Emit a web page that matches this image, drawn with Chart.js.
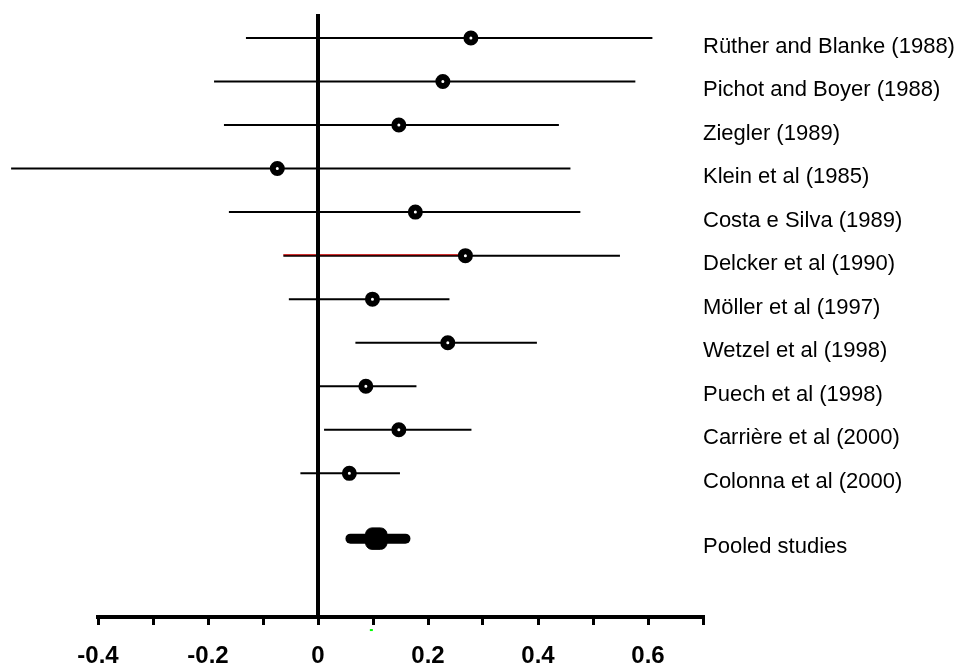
<!DOCTYPE html>
<html>
<head>
<meta charset="utf-8">
<script src="https://cdn.jsdelivr.net/npm/chart.js@4.4.1/dist/chart.umd.min.js"></script>
<style>
  html, body { margin: 0; padding: 0; background: #fff; }
  #wrap { width: 961px; height: 665px; position: relative; }
</style>
</head>
<body>
<div id="wrap"><canvas id="forest"></canvas></div>
<script>
// studies, top to bottom
const studies = [
    'Rüther and Blanke (1988)',
    'Pichot and Boyer (1988)',
    'Ziegler (1989)',
    'Klein et al (1985)',
    'Costa e Silva (1989)',
    'Delcker et al (1990)',
    'Möller et al (1997)',
    'Wetzel et al (1998)',
    'Puech et al (1998)',
    'Carrière et al (2000)',
    'Colonna et al (2000)',
    'Pooled studies'
];
// row index on the vertical scale (pooled row sits a bit lower)
const rows = [0, 1, 2, 3, 4, 5, 6, 7, 8, 9, 10, 11.5];

const estimate = [0.278, 0.227, 0.147, -0.074, 0.177, 0.268, 0.099, 0.236, 0.087, 0.147, 0.057, 0.106];
const lower    = [-0.131, -0.189, -0.171, -0.558, -0.162, -0.063, -0.053, 0.068, 0.003, 0.011, -0.032, 0.059];
const upper    = [0.608, 0.577, 0.438, 0.459, 0.477, 0.549, 0.239, 0.398, 0.179, 0.279, 0.149, 0.159];

const xTicks = [-0.4, -0.3, -0.2, -0.1, 0, 0.1, 0.2, 0.3, 0.4, 0.5, 0.6, 0.7];
const xTickLabels = ['-0.4', '', '-0.2', '', '0', '', '0.2', '', '0.4', '', '0.6', ''];

const pooled = studies.length - 1;
const redRow = 5; // Delcker: left arm drawn in red

const datasets = [];

// estimate markers (individual studies)
datasets.push({
    type: 'scatter',
    data: estimate.slice(0, pooled).map((v, i) => ({ x: v, y: rows[i] })),
    pointStyle: 'circle',
    pointRadius: 4.5,
    pointBorderWidth: 6,
    pointBackgroundColor: '#ffffff',
    pointBorderColor: '#000000',
    order: 0
});

// pooled marker
datasets.push({
    type: 'scatter',
    data: [{ x: estimate[pooled], y: rows[pooled] }],
    pointStyle: 'rectRounded',
    pointRadius: 12.5,
    pointBorderWidth: 1,
    pointBackgroundColor: '#000000',
    pointBorderColor: '#000000',
    order: 0
});

// zero line
datasets.push({
    type: 'line',
    data: [{ x: 0, y: -0.55 }, { x: 0, y: 13.3 }],
    borderColor: '#000000',
    borderWidth: 4,
    pointRadius: 0,
    order: 1
});

// red left arm
datasets.push({
    type: 'line',
    data: [{ x: lower[redRow], y: rows[redRow] - 0.02 }, { x: estimate[redRow], y: rows[redRow] - 0.02 }],
    borderColor: '#d40000',
    borderWidth: 1,
    pointRadius: 0,
    order: 2
});

// confidence interval lines (Klein runs past the axis start, so no clipping)
studies.forEach((name, i) => {
    datasets.push({
        type: 'line',
        data: [{ x: lower[i], y: rows[i] }, { x: upper[i], y: rows[i] }],
        borderColor: '#000000',
        borderWidth: i === pooled ? 10 : 2,
        borderCapStyle: i === pooled ? 'round' : 'butt',
        pointRadius: 0,
        clip: false,
        order: 3
    });
});

// tiny green speck under the axis
const speck = { x: 0.097, y: 13.6 };
const speckPlugin = {
    id: 'speck',
    afterDraw(chart) {
        const ctx = chart.ctx;
        const px = chart.scales.x.getPixelForValue(speck.x);
        const py = chart.scales.y.getPixelForValue(speck.y);
        ctx.save();
        ctx.fillStyle = '#00ff00';
        ctx.fillRect(px - 1.5, py - 1, 3, 2);
        ctx.restore();
    }
};

Chart.defaults.font.family = '"Liberation Sans", Arial, sans-serif';
Chart.defaults.color = '#000000';

new Chart(document.getElementById('forest'), {
    type: 'scatter',
    data: { datasets },
    options: {
        responsive: true,
        maintainAspectRatio: false,
        animation: false,
        layout: { padding: { left: 98, top: 14, right: 0, bottom: 0 } },
        plugins: {
            legend: { display: false },
            tooltip: { enabled: false }
        },
        scales: {
            x: {
                type: 'linear',
                min: -0.4,
                max: 0.7,
                afterBuildTicks: (scale) => { scale.ticks = xTicks.map(v => ({ value: v })); },
                afterFit: (scale) => { scale.height = 48; },
                border: { display: true, color: '#000000', width: 4 },
                grid: { display: true, drawOnChartArea: false, drawTicks: true, tickLength: 8, lineWidth: 3, color: '#000000' },
                ticks: {
                    autoSkip: false,
                    maxRotation: 0,
                    padding: 17,
                    font: { size: 24, weight: 'bold' },
                    callback: (v, i) => xTickLabels[i]
                }
            },
            y: {
                type: 'linear',
                min: -0.55,
                max: 13.3,
                reverse: true,
                display: false
            },
            yr: {
                type: 'linear',
                position: 'right',
                min: -0.55,
                max: 13.3,
                reverse: true,
                afterBuildTicks: (scale) => { scale.ticks = rows.map(v => ({ value: v })); },
                afterFit: (scale) => { scale.width = 258; },
                border: { display: false },
                grid: { display: false, drawTicks: false },
                ticks: {
                    autoSkip: false,
                    padding: 0,
                    labelOffset: 8.5,
                    font: { size: 22 },
                    callback: (v, i) => studies[i]
                }
            }
        }
    },
    plugins: [speckPlugin]
});
</script>
</body>
</html>
